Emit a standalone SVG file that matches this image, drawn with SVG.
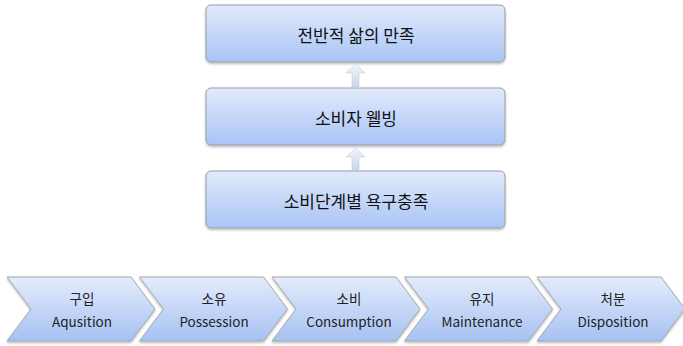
<svg xmlns="http://www.w3.org/2000/svg" width="683" height="346" viewBox="0 0 683 346">
<defs>
<linearGradient id="gBox" x1="0" y1="0" x2="0" y2="1">
<stop offset="0" stop-color="#e2eafb"/>
<stop offset="1" stop-color="#a9c4f5"/>
</linearGradient>
<linearGradient id="gChev" x1="0" y1="0" x2="0" y2="1">
<stop offset="0" stop-color="#e4ecfb"/>
<stop offset="1" stop-color="#a6c1f3"/>
</linearGradient>
<linearGradient id="gArr" x1="0" y1="0" x2="0" y2="1">
<stop offset="0" stop-color="#f2f5fb"/>
<stop offset="1" stop-color="#c9d6ec"/>
</linearGradient>
<filter id="sh" x="-10%" y="-20%" width="120%" height="150%">
<feDropShadow dx="0" dy="1.5" stdDeviation="1.2" flood-color="#000" flood-opacity="0.28"/>
</filter>
</defs>
<style>
.box{fill:url(#gBox);stroke:#9a9ea6;stroke-width:1;filter:url(#sh)}
.chev{fill:url(#gChev);stroke:#a3a7ad;stroke-width:1;filter:url(#sh)}
.arr{fill:url(#gArr);stroke:#c8ccd3;stroke-width:0.6}
.t16{font-family:"Noto Sans CJK KR","Noto Sans",sans-serif;font-size:17px;fill:#111;text-anchor:middle;dominant-baseline:central}
.t13{font-family:"Noto Sans CJK KR","Noto Sans",sans-serif;font-size:13.5px;fill:#222;text-anchor:middle;dominant-baseline:central}
</style>
<g id="box-satisfaction">
<rect class="box" x="206" y="5" width="299" height="57" rx="5"/>
<text class="t16" x="356" y="34">전반적 삶의 만족</text>
</g>
<g id="box-wellbeing">
<rect class="box" x="206" y="88" width="299" height="57" rx="5"/>
<text class="t16" x="356" y="117">소비자 웰빙</text>
</g>
<g id="box-needs">
<rect class="box" x="206" y="171" width="299" height="57" rx="5"/>
<text class="t16" x="356" y="200">소비단계별 욕구충족</text>
</g>
<g id="connectors">
<path class="arr" d="M355.5,64 L365,73 L359,73 L359,87 L352,87 L352,73 L346,73 Z"/>
<path class="arr" d="M355.5,148 L365,157 L359,157 L359,170 L352,170 L352,157 L346,157 Z"/>
</g>
<g id="stage-acquisition">
<path class="chev" d="M7,277 L131,277 L155,309 L131,341 L7,341 L31,309 Z"/>
<text class="t13" x="82" y="298">구입</text>
<text class="t13" x="82" y="321">Aqusition</text>
</g>
<g id="stage-possession">
<path class="chev" d="M139.5,277 L263.5,277 L287.5,309 L263.5,341 L139.5,341 L163.5,309 Z"/>
<text class="t13" x="214" y="298">소유</text>
<text class="t13" x="214" y="321">Possession</text>
</g>
<g id="stage-consumption">
<path class="chev" d="M272,277 L396,277 L420,309 L396,341 L272,341 L296,309 Z"/>
<text class="t13" x="349" y="298">소비</text>
<text class="t13" x="349" y="321">Consumption</text>
</g>
<g id="stage-maintenance">
<path class="chev" d="M404.5,277 L528.5,277 L552.5,309 L528.5,341 L404.5,341 L428.5,309 Z"/>
<text class="t13" x="482" y="298">유지</text>
<text class="t13" x="482" y="321">Maintenance</text>
</g>
<g id="stage-disposition">
<path class="chev" d="M537,277 L661,277 L685,309 L661,341 L537,341 L561,309 Z"/>
<text class="t13" x="613" y="298">처분</text>
<text class="t13" x="613" y="321">Disposition</text>
</g>
</svg>
